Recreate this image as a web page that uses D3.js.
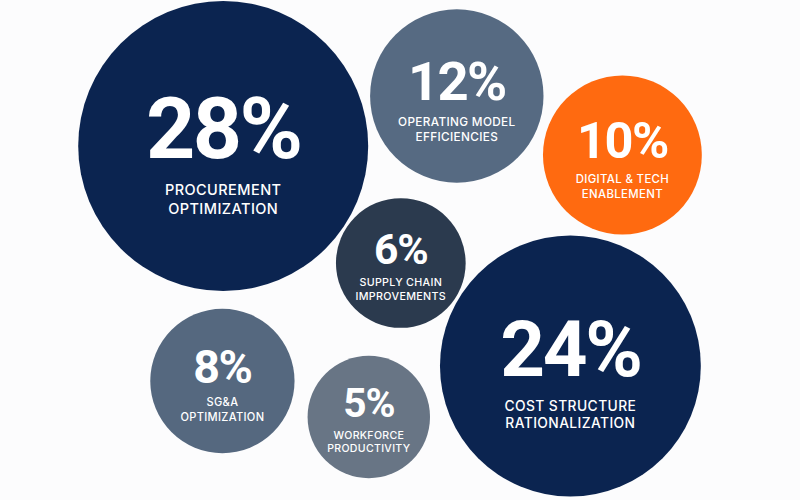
<!DOCTYPE html>
<html>
<head>
<meta charset="utf-8">
<script src="https://cdn.jsdelivr.net/npm/d3@7"></script>
<style>
  html, body { margin: 0; padding: 0; background: #fcfcfd; }
  svg { display: block; font-family: Inter, "Noto Sans", sans-serif; }
</style>
</head>
<body>
<div id="chart"></div>
<script>
// data
var labels = [
    ["PROCUREMENT", "OPTIMIZATION"],
    ["OPERATING MODEL", "EFFICIENCIES"],
    ["DIGITAL & TECH", "ENABLEMENT"],
    ["SUPPLY CHAIN", "IMPROVEMENTS"],
    ["COST STRUCTURE", "RATIONALIZATION"],
    ["SG&A", "OPTIMIZATION"],
    ["WORKFORCE", "PRODUCTIVITY"]
];
var values = [28, 12, 10, 6, 24, 8, 5];

// layout slots (0-100 units in each direction)
var slotX = [27.9, 57.1, 77.8, 50.1, 71.3, 27.8, 46.1];
var slotY = [29.2, 19.2, 31.0, 52.6, 73.2, 76.2, 83.4];

var palette = ["#0b2450", "#566a82", "#ff6a10", "#2b3a4e", "#0b2450", "#55687f", "#687585"];

var width = 800,
    height = 500;

var x = d3.scaleLinear().domain([0, 100]).range([0, width]),
    y = d3.scaleLinear().domain([0, 100]).range([0, height]),
    r = d3.scaleLinear().domain([0, 28]).range([43, 145]),
    pctSize = d3.scaleLinear().domain([60, 145]).range([40, 86]),
    pctShift = d3.scaleLinear().domain([60, 145]).range([0, 12]),
    labelSize = d3.scaleLinear().domain([60, 145]).range([10.5, 14.5]);

var nodes = values.map((v, i) => ({
    value: v,
    label: labels[i],
    color: palette[i],
    cx: x(slotX[i]),
    cy: y(slotY[i]),
    r: r(v)
}));

var svg = d3.select("#chart").append("svg")
    .attr("width", width)
    .attr("height", height);

var bubble = svg.selectAll("g.bubble")
    .data(nodes)
    .join("g")
    .attr("class", "bubble")
    .attr("transform", d => `translate(${d.cx},${d.cy})`);

bubble.append("circle")
    .attr("r", d => d.r)
    .attr("fill", d => d.color);

bubble.append("text")
    .attr("class", "pct")
    .attr("text-anchor", "middle")
    .attr("y", d => pctShift(d.r))
    .attr("fill", "#fff")
    .style("font-family", "Roboto, Inter, sans-serif")
    .style("font-weight", 700)
    .style("font-size", d => pctSize(d.r) + "px")
    .style("letter-spacing", "-0.03em")
    .text(d => d.value + "%");

// two line label under the number
bubble.each(function(d) {
    var fs = labelSize(d.r);
    d3.select(this).selectAll("text.lab")
        .data(d.label)
        .join("text")
        .attr("class", "lab")
        .attr("text-anchor", "middle")
        .attr("y", (t, i) => d.r * 0.32 + fs * 0.2 + i * fs * 1.3)
        .attr("fill", "#fff")
        .style("font-weight", 500)
        .style("font-size", fs + "px")
        .style("letter-spacing", "0.03em")
        .text(t => t);
});
</script>
</body>
</html>
